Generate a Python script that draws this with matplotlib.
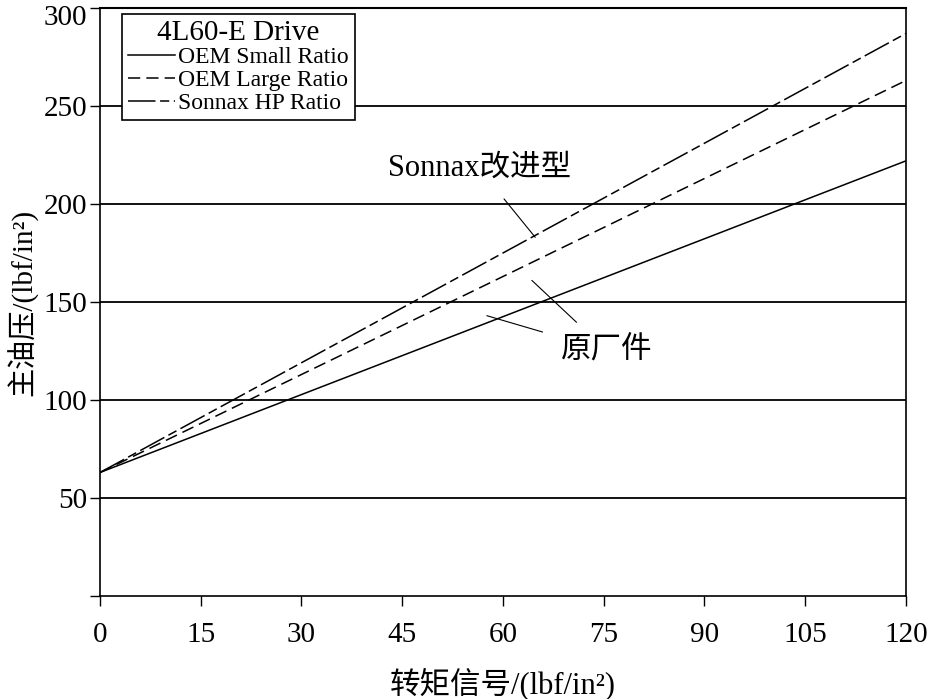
import matplotlib.pyplot as plt
import matplotlib.transforms as mtransforms
import numpy as np

plt.rcParams['font.family'] = ['Liberation Serif', 'Noto Sans CJK SC']

# torque signal (lbf/in^2) and line pressure (lbf/in^2)
torque = [0, 120]
oem_small = [63, 222]
oem_large = [63, 263]
sonnax_hp = [63, 287]

x_ticks = [0, 15, 30, 45, 60, 75, 90, 105, 120]
y_ticks = [50, 100, 150, 200, 250, 300]

fig = plt.figure(figsize=(9.37, 6.99), dpi=100)
ax = fig.add_axes([0.1067, 0.1474, 0.8602, 0.8412])

# horizontal grid lines
for yv in y_ticks:
    ax.axhline(yv, color='black', lw=1.3, zorder=1)

ax.plot(torque, oem_small, color='black', lw=1.1, label='OEM Small Ratio')
ax.plot(torque, oem_large, color='black', lw=1.1, dashes=(8, 4), label='OEM Large Ratio')
ax.plot(torque, sonnax_hp, color='black', lw=1.1, dashes=(18, 3, 6, 3), label='Sonnax HP Ratio')

ax.set_xlim(0, 120)
ax.set_ylim(0, 300)
ax.set_xticks(x_ticks)
ax.set_yticks([0] + y_ticks)
ax.set_yticklabels([''] + [str(v) for v in y_ticks])
ax.tick_params(axis='both', direction='out', length=7, width=1, labelsize=21, color='black')
ax.tick_params(axis='x', pad=12)
ax.tick_params(axis='y', pad=2)
for s in ['left', 'bottom', 'right', 'top']:
    ax.spines[s].set_linewidth(1.2)
ax.spines['top'].set_linewidth(1.5)

# keep the top "300" label inside the figure
top_lbl = ax.get_yticklabels()[-1]
top_lbl.set_transform(top_lbl.get_transform() +
                      mtransforms.ScaledTranslation(0, -5 / 72, fig.dpi_scale_trans))

ax.set_xlabel('转矩信号/(lbf/in²)', fontsize=22, labelpad=14)
ax.set_ylabel('主油压/(lbf/in²)', fontsize=21, labelpad=4)

leg = ax.legend(loc='upper left', bbox_to_anchor=(0.027, 0.99), borderaxespad=0,
                title='4L60-E Drive', fontsize=17, title_fontsize=21,
                handlelength=2.0, handletextpad=0.15, labelspacing=0.05,
                borderpad=0.25, fancybox=False, framealpha=1, edgecolor='black')
leg.get_frame().set_linewidth(1.2)

# annotations
ax.annotate('Sonnax改进型', xy=(64.8, 183), xytext=(56.5, 218), fontsize=22,
            ha='center', va='center',
            arrowprops=dict(arrowstyle='-', color='black', lw=0.8, shrinkA=12, shrinkB=0))
ax.annotate('原厂件', xy=(64.3, 161), xytext=(75.5, 125), fontsize=22,
            ha='center', va='center',
            arrowprops=dict(arrowstyle='-', color='black', lw=0.8, shrinkA=12, shrinkB=0))
ax.annotate('原厂件', xy=(57.6, 143), xytext=(75.5, 125), fontsize=22,
            ha='center', va='center', color='none',
            arrowprops=dict(arrowstyle='-', color='black', lw=0.8, shrinkA=12, shrinkB=0))

fig.savefig('out.png', dpi=100)
